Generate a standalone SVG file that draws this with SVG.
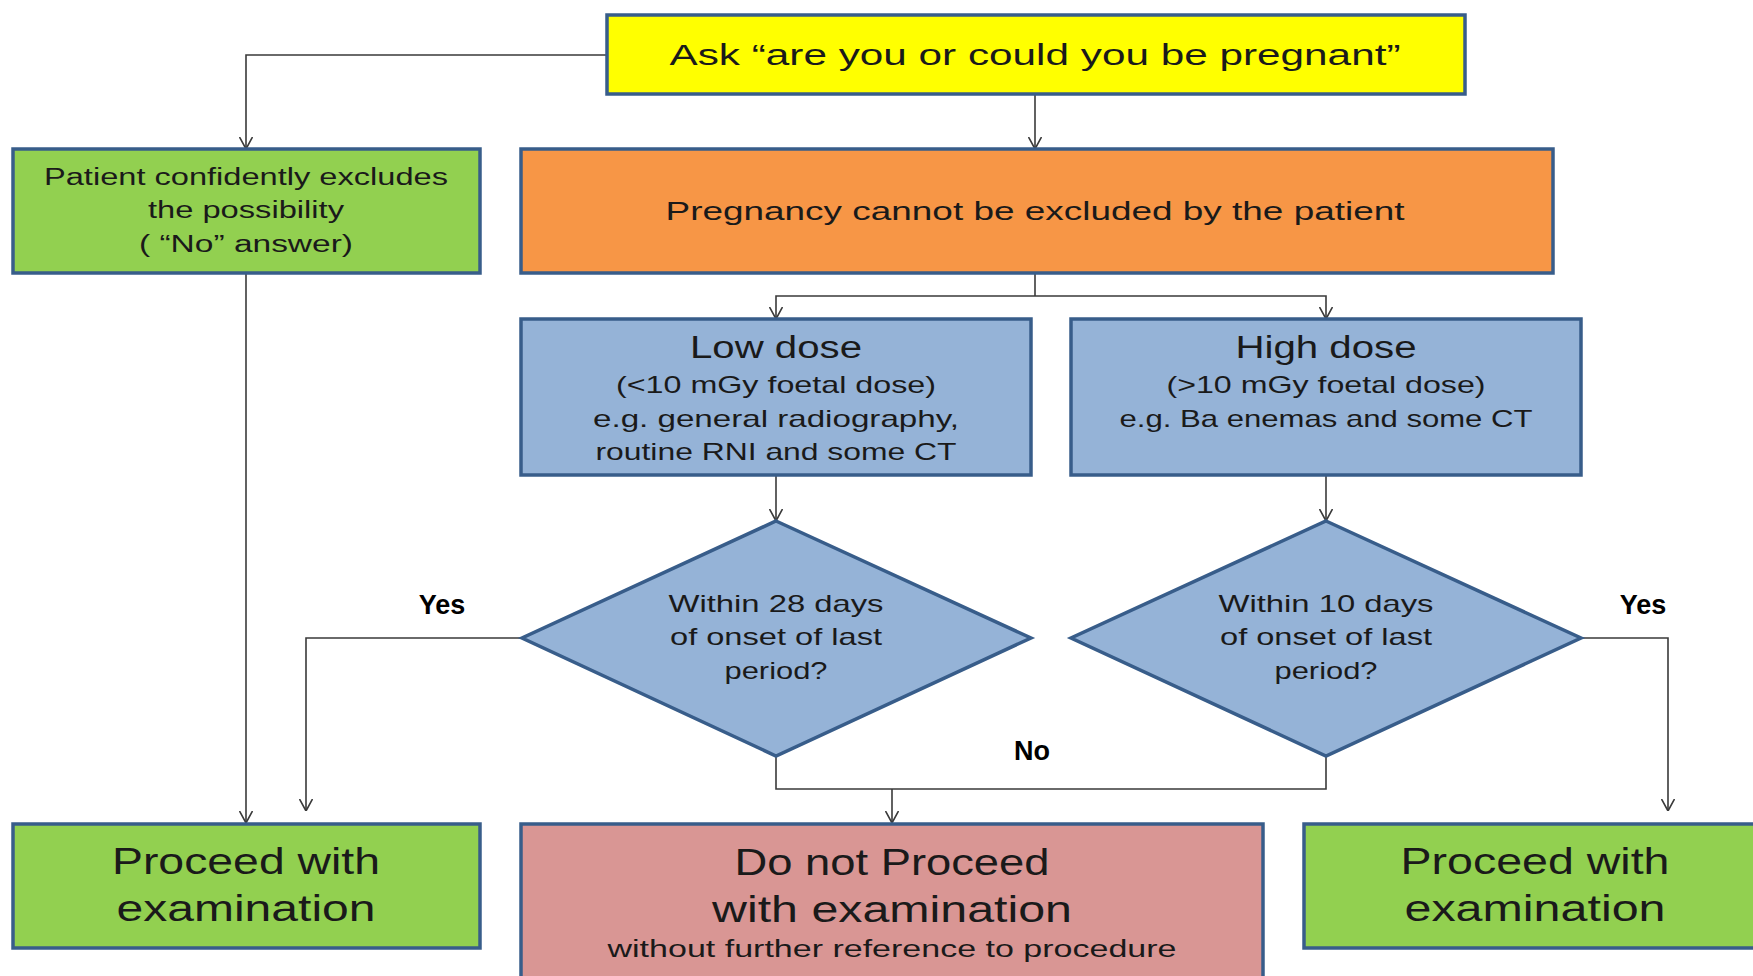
<svg xmlns="http://www.w3.org/2000/svg" width="1753" height="976" viewBox="0 0 1753 976">
<defs>
<style>
.box{stroke:#385D8A;stroke-width:3.5}
.y{fill:#FFFF00}.g{fill:#92D050}.o{fill:#F79646}.b{fill:#95B3D7}.p{fill:#D99694}
text{font-family:"Liberation Sans",Arial,sans-serif;fill:#1a1a1a;text-anchor:middle}
.lbl{font-weight:bold;fill:#000}
.c{fill:none;stroke:#3a3a3a;stroke-width:1.6}
</style>
<marker id="ah" viewBox="0 0 12 14" refX="12" refY="7" markerWidth="12" markerHeight="14" markerUnits="userSpaceOnUse" orient="auto">
<path d="M0,0.5 L12,7 L0,13.5" fill="none" stroke="#3a3a3a" stroke-width="1.6"/>
</marker>
</defs>
<rect width="1753" height="976" fill="#ffffff"/>

<g id="connectors">
<path class="c" d="M607,55 H246 V149" marker-end="url(#ah)"/>
<path class="c" d="M1035,94 V149" marker-end="url(#ah)"/>
<path class="c" d="M1035,273 V296"/>
<path class="c" d="M1035,296 H776 V319" marker-end="url(#ah)"/>
<path class="c" d="M1035,296 H1326 V319" marker-end="url(#ah)"/>
<path class="c" d="M776,475 V521" marker-end="url(#ah)"/>
<path class="c" d="M1326,475 V521" marker-end="url(#ah)"/>
<path class="c" d="M246,273 V823" marker-end="url(#ah)"/>
<path class="c" d="M522,638 H306 V811" marker-end="url(#ah)"/>
<path class="c" d="M1581,638 H1668 V811" marker-end="url(#ah)"/>
<path class="c" d="M776,756 V789 H1326 V756"/>
<path class="c" d="M892,789 V823" marker-end="url(#ah)"/>
<text class="lbl" x="442" y="614" font-size="27">Yes</text>
<text class="lbl" x="1643" y="614" font-size="27">Yes</text>
<text class="lbl" x="1032" y="760" font-size="27">No</text>
</g>

<g id="ask">
<rect class="box y" x="607" y="15" width="858" height="79"/>
<text x="1035" y="65" font-size="30" textLength="731" lengthAdjust="spacingAndGlyphs">Ask “are you or could you be pregnant”</text>
</g>

<g id="excludes">
<rect class="box g" x="13" y="149" width="467" height="124"/>
<text x="246" y="185" font-size="23" textLength="404" lengthAdjust="spacingAndGlyphs">Patient confidently excludes</text>
<text x="246" y="218" font-size="23" textLength="196" lengthAdjust="spacingAndGlyphs">the possibility</text>
<text x="246" y="252" font-size="23" textLength="214" lengthAdjust="spacingAndGlyphs">( “No” answer)</text>
</g>

<g id="cannot">
<rect class="box o" x="521" y="149" width="1032" height="124"/>
<text x="1035" y="220" font-size="26" textLength="739" lengthAdjust="spacingAndGlyphs">Pregnancy cannot be excluded by the patient</text>
</g>

<g id="lowdose">
<rect class="box b" x="521" y="319" width="510" height="156"/>
<text x="776" y="358" font-size="31" textLength="172" lengthAdjust="spacingAndGlyphs">Low dose</text>
<text x="776" y="393" font-size="24" textLength="320" lengthAdjust="spacingAndGlyphs">(&lt;10 mGy foetal dose)</text>
<text x="776" y="427" font-size="24" textLength="366" lengthAdjust="spacingAndGlyphs">e.g. general radiography,</text>
<text x="776" y="460" font-size="24" textLength="361" lengthAdjust="spacingAndGlyphs">routine RNI and some CT</text>
</g>

<g id="highdose">
<rect class="box b" x="1071" y="319" width="510" height="156"/>
<text x="1326" y="358" font-size="31" textLength="181" lengthAdjust="spacingAndGlyphs">High dose</text>
<text x="1326" y="393" font-size="24" textLength="319" lengthAdjust="spacingAndGlyphs">(&gt;10 mGy foetal dose)</text>
<text x="1326" y="427" font-size="24" textLength="413" lengthAdjust="spacingAndGlyphs">e.g. Ba enemas and some CT</text>
</g>

<g id="within28">
<polygon class="box b" points="776,521 1031,638 776,756 522,638"/>
<text x="776" y="612" font-size="24" textLength="215" lengthAdjust="spacingAndGlyphs">Within 28 days</text>
<text x="776" y="645" font-size="24" textLength="212" lengthAdjust="spacingAndGlyphs">of onset of last</text>
<text x="776" y="679" font-size="24" textLength="103" lengthAdjust="spacingAndGlyphs">period?</text>
</g>

<g id="within10">
<polygon class="box b" points="1326,521 1581,638 1326,756 1071,638"/>
<text x="1326" y="612" font-size="24" textLength="215" lengthAdjust="spacingAndGlyphs">Within 10 days</text>
<text x="1326" y="645" font-size="24" textLength="212" lengthAdjust="spacingAndGlyphs">of onset of last</text>
<text x="1326" y="679" font-size="24" textLength="103" lengthAdjust="spacingAndGlyphs">period?</text>
</g>

<g id="proceed-left">
<rect class="box g" x="13" y="824" width="467" height="124"/>
<text x="246" y="874" font-size="37" textLength="268" lengthAdjust="spacingAndGlyphs">Proceed with</text>
<text x="246" y="921" font-size="37" textLength="259" lengthAdjust="spacingAndGlyphs">examination</text>
</g>

<g id="donot">
<rect class="box p" x="521" y="824" width="742" height="170"/>
<text x="892" y="875" font-size="37" textLength="315" lengthAdjust="spacingAndGlyphs">Do not Proceed</text>
<text x="892" y="922" font-size="37" textLength="360" lengthAdjust="spacingAndGlyphs">with examination</text>
<text x="892" y="957" font-size="23" textLength="569" lengthAdjust="spacingAndGlyphs">without further reference to procedure</text>
</g>

<g id="proceed-right">
<rect class="box g" x="1304" y="824" width="470" height="124"/>
<text x="1535" y="874" font-size="37" textLength="269" lengthAdjust="spacingAndGlyphs">Proceed with</text>
<text x="1535" y="921" font-size="37" textLength="261" lengthAdjust="spacingAndGlyphs">examination</text>
</g>
</svg>
